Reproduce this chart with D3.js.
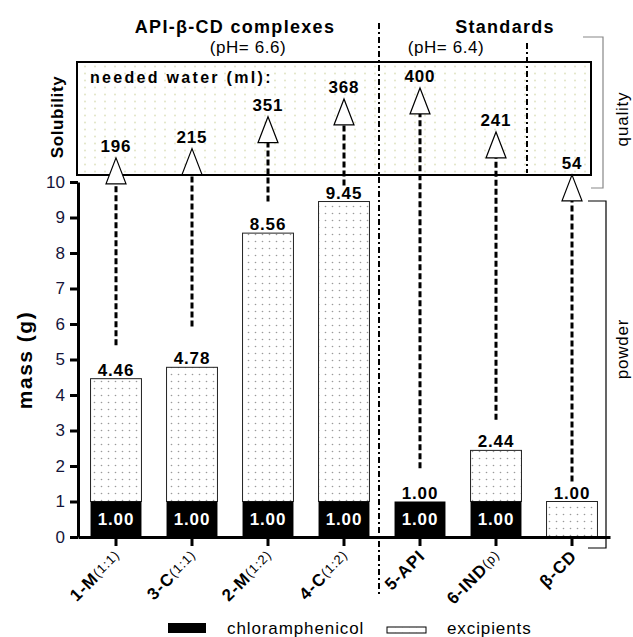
<!DOCTYPE html>
<html lang="en">
<head>
<meta charset="UTF-8">
<title>mass (g) and solubility</title>
<style>
    body { margin: 0; padding: 0; background: #fff; }
    svg text { font-family: "Liberation Sans", Arial, sans-serif; }
</style>
</head>
<body>
<script src="https://d3js.org/d3.v7.min.js"></script>
<script>
    // data
    const categories = ['1-M', '3-C', '2-M', '4-C', '5-API', '6-IND', 'β-CD'];
    const subLabels = ['(1:1)', '(1:1)', '(1:2)', '(1:2)', '', '(p)', ''];
    const chloramphenicol = [1.00, 1.00, 1.00, 1.00, 1.00, 1.00, 0];
    const totalMass = [4.46, 4.78, 8.56, 9.45, 1.00, 2.44, 1.00];
    const neededWater = [196, 215, 351, 368, 400, 241, 54];
    const arrowLevel = [10.68, 10.94, 11.84, 12.34, 12.65, 11.41, 10.20];
    const arrowStart = [5.40, 5.93, 9.45, 9.90, 1.94, 3.30, 1.56];
    const yTicks = [0, 1, 2, 3, 4, 5, 6, 7, 8, 9, 10];

    const width = 633, height = 637;
    const svg = d3.select('body').append('svg')
        .attr('width', width)
        .attr('height', height);

    // patterns
    const defs = svg.append('defs');
    const barDots = defs.append('pattern').attr('id', 'barDots')
        .attr('patternUnits', 'userSpaceOnUse').attr('width', 7).attr('height', 7);
    barDots.append('rect').attr('width', 7).attr('height', 7).attr('fill', '#fff');
    barDots.append('circle').attr('cx', 3.5).attr('cy', 3.5).attr('r', 0.8).attr('fill', '#9a9a9a');
    const boxDots = defs.append('pattern').attr('id', 'boxDots')
        .attr('patternUnits', 'userSpaceOnUse').attr('width', 10).attr('height', 7);
    boxDots.append('rect').attr('width', 10).attr('height', 7).attr('fill', '#fff');
    boxDots.append('circle').attr('cx', 5).attr('cy', 3.5).attr('r', 1).attr('fill', '#e2e5c6');

    // scales
    const x = d3.scaleBand().domain(categories).range([78, 610])
        .paddingInner(0.33).paddingOuter(0.165);
    const y = d3.scaleLinear().domain([0, 10]).range([537, 182]);
    const cx = d => x(d) + x.bandwidth() / 2;

    // solubility box
    svg.append('rect')
        .attr('x', 77).attr('y', 62).attr('width', 514).attr('height', 113)
        .attr('fill', 'url(#boxDots)')
        .attr('stroke', '#000').attr('stroke-width', 2);

    svg.append('text').attr('x', 90).attr('y', 83)
        .attr('font-size', 16).attr('font-weight', 'bold').attr('letter-spacing', 2.3)
        .text('needed water (ml):');

    svg.append('text')
        .attr('transform', 'translate(63,117) rotate(-90)')
        .attr('text-anchor', 'middle')
        .attr('font-size', 17).attr('font-weight', 'bold').attr('letter-spacing', 0.6)
        .text('Solubility');

    // dash-dot dividers
    svg.append('line').attr('x1', 379).attr('x2', 379).attr('y1', 23).attr('y2', 594)
        .attr('stroke', '#000').attr('stroke-width', 2).attr('stroke-dasharray', '6,3,2,3');
    svg.append('line').attr('x1', 527).attr('x2', 527).attr('y1', 43).attr('y2', 173)
        .attr('stroke', '#000').attr('stroke-width', 2).attr('stroke-dasharray', '6,3,2,3');

    // group headers
    svg.append('text').attr('x', 235).attr('y', 33).attr('text-anchor', 'middle')
        .attr('font-size', 18).attr('font-weight', 'bold').attr('letter-spacing', 1.3)
        .text('API-β-CD complexes');
    svg.append('text').attr('x', 248).attr('y', 53).attr('text-anchor', 'middle')
        .attr('font-size', 17).attr('letter-spacing', 0.6)
        .text('(pH= 6.6)');
    svg.append('text').attr('x', 505).attr('y', 33).attr('text-anchor', 'middle')
        .attr('font-size', 18).attr('font-weight', 'bold').attr('letter-spacing', 1.3)
        .text('Standards');
    svg.append('text').attr('x', 446).attr('y', 53).attr('text-anchor', 'middle')
        .attr('font-size', 17).attr('letter-spacing', 0.6)
        .text('(pH= 6.4)');

    // bars
    const rows = categories.map((c, i) => ({
        name: c, sub: subLabels[i], chl: chloramphenicol[i], total: totalMass[i],
        water: neededWater[i], level: arrowLevel[i], start: arrowStart[i]
    }));

    svg.append('g').selectAll('rect')
        .data(rows.filter(d => d.total > d.chl))
        .join('rect')
        .attr('x', d => x(d.name))
        .attr('y', d => y(d.total))
        .attr('width', x.bandwidth())
        .attr('height', d => y(d.chl) - y(d.total))
        .attr('fill', 'url(#barDots)')
        .attr('stroke', '#222').attr('stroke-width', 1);

    svg.append('g').selectAll('rect')
        .data(rows.filter(d => d.chl > 0))
        .join('rect')
        .attr('x', d => x(d.name))
        .attr('y', d => y(d.chl))
        .attr('width', x.bandwidth())
        .attr('height', d => y(0) - y(d.chl))
        .attr('fill', '#000');

    // value labels
    svg.append('g').selectAll('text')
        .data(rows)
        .join('text')
        .attr('x', d => cx(d.name))
        .attr('y', d => y(d.total) - 3)
        .attr('text-anchor', 'middle')
        .attr('font-size', 17).attr('font-weight', 'bold').attr('letter-spacing', 0.8)
        .text(d => d.total.toFixed(2));

    svg.append('g').selectAll('text')
        .data(rows.filter(d => d.chl > 0))
        .join('text')
        .attr('x', d => cx(d.name))
        .attr('y', d => y(0) - 12)
        .attr('text-anchor', 'middle')
        .attr('fill', '#fff')
        .attr('font-size', 17).attr('font-weight', 'bold').attr('letter-spacing', 0.8)
        .text(d => d.chl.toFixed(2));

    // dashed arrows up into the solubility box
    const triH = 26, triW = 10;
    const arrows = svg.append('g').selectAll('g').data(rows).join('g');
    arrows.append('line')
        .attr('x1', d => cx(d.name)).attr('x2', d => cx(d.name))
        .attr('y1', d => y(d.start))
        .attr('y2', d => y(d.level) + triH)
        .attr('stroke', '#000').attr('stroke-width', 3)
        .attr('stroke-dasharray', '6,3');
    arrows.append('path')
        .attr('d', d => {
            const px = cx(d.name), py = y(d.level);
            return `M${px},${py}L${px + triW},${py + triH}L${px - triW},${py + triH}Z`;
        })
        .attr('fill', '#fff').attr('stroke', '#000').attr('stroke-width', 1.2);
    arrows.append('text')
        .attr('x', d => cx(d.name))
        .attr('y', d => y(d.level) - 6)
        .attr('text-anchor', 'middle')
        .attr('font-size', 17).attr('font-weight', 'bold').attr('letter-spacing', 0.8)
        .text(d => d.water);

    // axes
    const yAxis = svg.append('g')
        .attr('transform', 'translate(78,0)')
        .call(d3.axisLeft(y).tickValues(yTicks).tickSize(8).tickSizeOuter(0).tickPadding(5));
    yAxis.select('.domain').attr('stroke-width', 3);
    yAxis.selectAll('.tick line').attr('stroke-width', 3);
    yAxis.selectAll('.tick text')
        .attr('font-size', 17).attr('fill', '#14143a')
        .attr('font-family', '"Liberation Sans", Arial, sans-serif');

    const xAxis = svg.append('g')
        .attr('transform', 'translate(0,537)')
        .call(d3.axisBottom(x).tickSize(9).tickSizeOuter(0).tickFormat(''));
    xAxis.select('.domain').attr('stroke-width', 3);
    xAxis.selectAll('.tick line').attr('stroke-width', 3);

    const xLabels = svg.append('g').selectAll('text')
        .data(rows)
        .join('text')
        .attr('transform', d => `translate(${cx(d.name) + 6},557) rotate(-45)`)
        .attr('text-anchor', 'end')
        .attr('font-size', 17).attr('font-weight', 'bold').attr('letter-spacing', 1);
    xLabels.append('tspan').text(d => d.name);
    xLabels.append('tspan')
        .attr('font-size', 13).attr('font-weight', 'normal').attr('dy', -2)
        .text(d => d.sub);

    svg.append('text')
        .attr('transform', 'translate(32,360) rotate(-90)')
        .attr('text-anchor', 'middle')
        .attr('font-size', 21).attr('font-weight', 'bold').attr('letter-spacing', 1.5)
        .text('mass (g)');

    // brackets
    svg.append('path')
        .attr('d', 'M583,37H603V188H591')
        .attr('fill', 'none').attr('stroke', '#888').attr('stroke-width', 1.2);
    svg.append('text')
        .attr('transform', 'translate(628,119) rotate(-90)')
        .attr('text-anchor', 'middle')
        .attr('font-size', 17).attr('letter-spacing', 0.8)
        .text('quality');
    svg.append('path')
        .attr('d', 'M588,201H606V548H588')
        .attr('fill', 'none').attr('stroke', '#000').attr('stroke-width', 1.2);
    svg.append('text')
        .attr('transform', 'translate(628,349) rotate(-90)')
        .attr('text-anchor', 'middle')
        .attr('font-size', 17).attr('letter-spacing', 0.8)
        .text('powder');

    // legend
    const legend = svg.append('g');
    legend.append('rect').attr('x', 168).attr('y', 623).attr('width', 38).attr('height', 10)
        .attr('fill', '#000');
    legend.append('text').attr('x', 227).attr('y', 634)
        .attr('font-size', 17).attr('letter-spacing', 0.9)
        .text('chloramphenicol');
    legend.append('rect').attr('x', 387).attr('y', 627).attr('width', 39).attr('height', 6)
        .attr('fill', 'url(#barDots)').attr('stroke', '#000').attr('stroke-width', 1);
    legend.append('text').attr('x', 447).attr('y', 634)
        .attr('font-size', 17).attr('letter-spacing', 0.9)
        .text('excipients');
</script>
</body>
</html>
